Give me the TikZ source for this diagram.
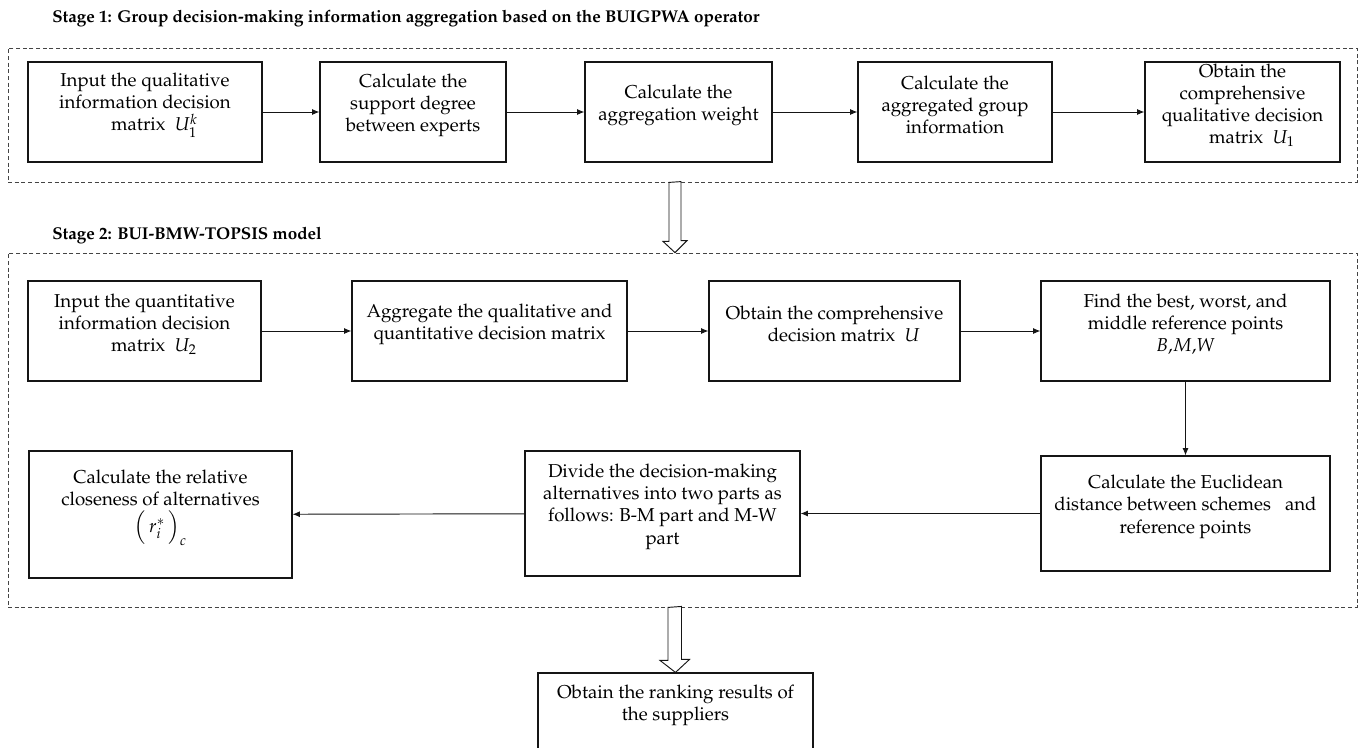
\documentclass[tikz,border=0pt]{standalone}
\usepackage[T1]{fontenc}
\usepackage{mathpazo}
\usetikzlibrary{arrows.meta,fit,calc}
\definecolor{ink}{HTML}{151515}
\tikzset{
  stepbox/.style={draw=ink, line width=0.85pt, inner sep=0pt, align=center, text=black,
    font=\fontsize{14}{16.6}\selectfont},
  dashbox/.style={draw=ink!80, line width=0.6pt, dash pattern=on 3pt off 2pt, inner sep=0pt},
  flow/.style={draw=ink, line width=0.7pt, -{Latex[length=5.5pt,width=4.5pt]}},
  hollow/.style={draw=ink, line width=0.7pt, fill=white},
  stagetitle/.style={anchor=west, inner sep=0pt, text=black, font=\fontsize{12.8}{15}\selectfont\bfseries},
}
\begin{document}
\begin{tikzpicture}[x=0.75pt,y=-0.75pt]
\useasboundingbox (0,0) rectangle (1364,747);
\clip (0,0) rectangle (1364,747);
% stage frames
\node[dashbox, fit={(8,48) (1357,182)}] (s1) {};
\node[dashbox, fit={(8,253) (1357,607)}] (s2) {};
\node[stagetitle] (t1) at (52,19) {Stage 1: Group decision-making information aggregation based on the BUIGPWA operator};
\node[stagetitle] (t2) at (52,236) {Stage 2: BUI-BMW-TOPSIS model};
% stage 1 row
\node[stepbox, fit={(28,62) (262,162)}] (a1) {Input the qualitative\\information decision\\\quad matrix \ $U_1^k$};
\node[stepbox, fit={(320,62) (506,162)}] (a2) {Calculate the\\support degree\\between experts};
\node[stepbox, fit={(585,62) (772,162)}] (a3) {Calculate the\\aggregation weight};
\node[stepbox, fit={(858,62) (1052,162)}] (a4) {Calculate the\\aggregated group\\information};
\node[stepbox, fit={(1145,62) (1340,162)}] (a5) {Obtain the\\comprehensive\\qualitative decision\\\quad matrix \ $U_1$};
% stage 2 rows
\node[stepbox, fit={(28,281) (261,381)}] (c1) {Input the quantitative\\information decision\\\quad matrix \ $U_2$};
\node[stepbox, fit={(352,281) (627,381)}] (c2) {Aggregate the qualitative and\\quantitative decision matrix};
\node[stepbox, fit={(709,281) (960,381)}] (c3) {Obtain the comprehensive\\\quad decision matrix \ $U$};
\node[stepbox, fit={(1041,281) (1330,381)}] (c4) {Find the best, worst, and\\middle reference points\\$B{,}M{,}W$};
\node[stepbox, fit={(29,451) (292,578)}] (d1) {Calculate the relative\\closeness of alternatives\\[2pt]$\Bigl(\,r_i^{*}\,\Bigr)_{c}$};
\node[stepbox, fit={(525,451) (800,576)}] (d2) {Divide the decision-making\\alternatives into two parts as\\follows: B-M part and M-W\\part};
\node[stepbox, fit={(1041,456) (1330,571)}] (d3) {Calculate the Euclidean\\distance between schemes\ \ \ and\\reference points};
\node[stepbox, fit={(538,673) (813,752)}] (e) {Obtain the ranking results of\\the suppliers};
% connectors
\draw[flow] (a1) -- (a2);
\draw[flow] (a2) -- (a3);
\draw[flow] (a3) -- (a4);
\draw[flow] (a4) -- (a5);
\draw[flow] (c1) -- (c2);
\draw[flow] (c2) -- (c3);
\draw[flow] (c3) -- (c4);
\draw[flow] (c4) -- (d3);
\draw[flow] (d3) -- (d2);
\draw[flow] (d2) -- (d1);
% hollow block arrows
\coordinate (h1) at ($(s1.south)+(-7.5,0)$);
\coordinate (h1e) at ($(s2.north)+(-7.5,0)$);
\draw[hollow] (h1) ++(-6,0) -- ++(0,59) -- ++(-6,0) -- (h1e) -- ++(12,-12) -- ++(-6,0) -- ++(0,-59) -- cycle;
\coordinate (h2) at ($(s2.south)+(-8.5,0)$);
\coordinate (h2e) at (e.north);
\draw[hollow] (h2) ++(-6,0) -- ++(0,53) -- ++(-8,0) -- (h2e) -- ++(14,-13) -- ++(-8,0) -- ++(0,-53) -- cycle;
\end{tikzpicture}
\end{document}
